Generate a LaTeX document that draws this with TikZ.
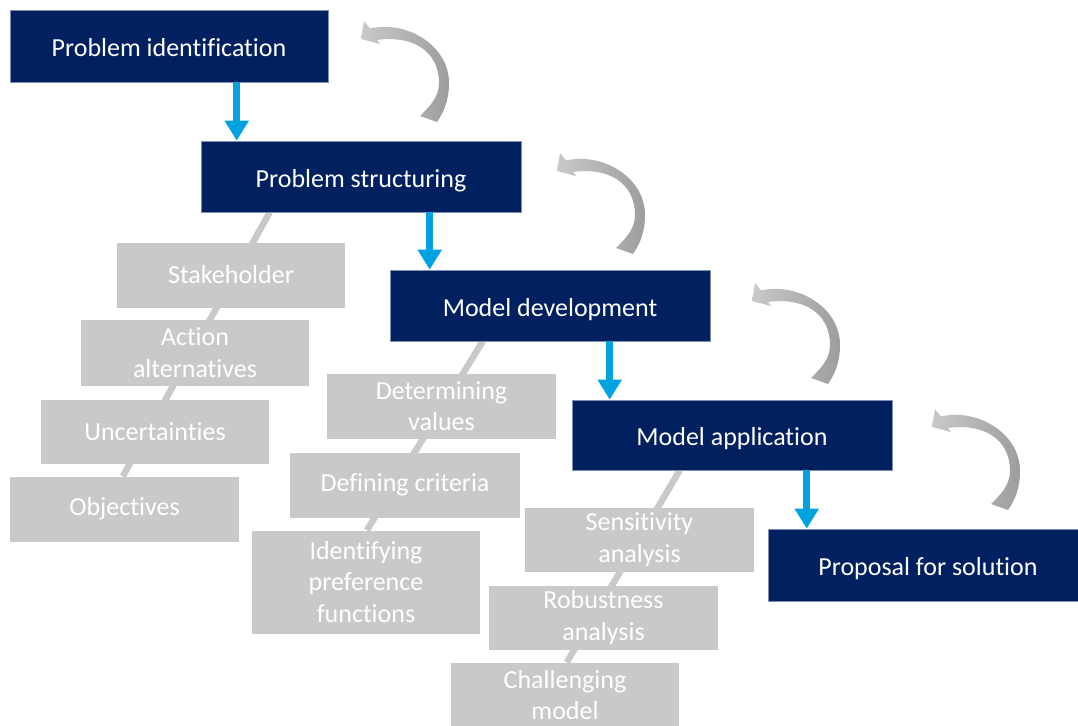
\documentclass[tikz,border=0pt]{standalone}
\usepackage{fontspec}
\setmainfont{Carlito}[Ligatures={NoCommon}]
\usetikzlibrary{arrows.meta,calc,backgrounds}
\definecolor{navy}{HTML}{002060}
\definecolor{navyedge}{HTML}{7F8FB0}
\definecolor{boxgray}{HTML}{C9CAC8}
\definecolor{flowblue}{HTML}{00A3E0}
\definecolor{arrowlight}{HTML}{C8CAC8}
\definecolor{arrowdark}{HTML}{9C9E9C}
\begin{document}
\begin{tikzpicture}[x=1pt,y=-1pt,
  darkbox/.style={fill=navy, draw=navyedge, line width=0.6pt, text=white,
    minimum width=320pt, minimum height=71pt, inner sep=0pt,
    text height=21pt, text depth=0pt,
    font=\fontsize{26}{31.7}\selectfont},
  graybox/.style={fill=boxgray, text=white, minimum width=228pt,
    minimum height=65pt, inner sep=0pt, align=center,
    font=\fontsize{26}{31.7}\selectfont},
  flow/.style={draw=flowblue, line width=7pt, -{Triangle[length=20pt,width=23pt]}},
  link/.style={draw=boxgray, line width=6.5pt},
  curvearrow/.pic={
    \shade[left color=arrowlight, right color=arrowdark]
      (-35,-41) -- (-32,-59) -- (-26,-51.5)
      .. controls (10,-60) and (53,-35) .. (53,3)
      .. controls (53,20) and (48,32) .. (41,42)
      -- (24,36)
      .. controls (32,28) and (43,18) .. (43,3)
      .. controls (43,-30) and (15,-45) .. (-19,-40)
      -- (-16,-36) -- cycle;
  }
]
\useasboundingbox (0,0) rectangle (1078,725);
\clip (0,0) rectangle (1078,725);

% dark process boxes
\node[darkbox, minimum width=318pt, minimum height=72pt] (pid) at (169,46) {Problem identification};
\node[darkbox] (pst) at (361,176.5) {Problem structuring};
\node[darkbox] (pmd) at (550,305.5) {Model development};
\node[darkbox, minimum height=70pt] (pma) at (732,435) {Model application};
\node[darkbox, minimum height=72pt] (pps) at (928,565) {Proposal for solution};

% gray sub-step boxes
\node[graybox] (stk) at (231,275) {Stakeholder};
\node[graybox, minimum height=66pt] (act) at (195,352.5) {Action\\alternatives};
\node[graybox, minimum height=64pt] (unc) at (155,431.5) {Uncertainties};
\node[graybox, minimum width=229pt] (obj) at (124.5,509) {Objectives};

\node[graybox, minimum width=229pt] (det) at (441.5,406) {Determining\\values};
\node[graybox, minimum width=230pt] (def) at (405,485) {Defining criteria};
\node[graybox, minimum height=103pt] (idf) at (366,582) {Identifying\\preference\\functions};

\node[graybox, minimum width=229pt, minimum height=64pt] (sen) at (639.5,539.5) {Sensitivity\\analysis};
\node[graybox, minimum width=229pt, minimum height=64pt] (rob) at (603.5,617.5) {Robustness\\analysis};
\node[graybox] (chl) at (565,695) {Challenging\\model};

% gray links behind the boxes
\begin{scope}[on background layer]
  \draw[link] ($(pst.south west)+(69,0)$) -- ($(obj.north west)+(113,0)$);
  \draw[link] ($(pmd.south west)+(93,0)$) -- ($(idf.north west)+(115,0)$);
  \draw[link] ($(pma.south west)+(108,0)$) -- ($(chl.north west)+(116,0)$);
\end{scope}

% blue flow arrows
\draw[flow] ($(pid.south west)+(227,0)$) -- ($(pst.north west)+(36,0)$);
\draw[flow] ($(pst.south west)+(229,0)$) -- ($(pmd.north west)+(40,0)$);
\draw[flow] ($(pmd.south west)+(220,0)$) -- ($(pma.north west)+(38,0)$);
\draw[flow] ($(pma.south west)+(235,0)$) -- ($(pps.north west)+(39,0)$);

% gray iteration arrows
\pic (ca1) at (396,80) {curvearrow};
\pic (ca2) at (592,212) {curvearrow};
\pic (ca3) at (787,342) {curvearrow};
\pic (ca4) at (967,468) {curvearrow};
\end{tikzpicture}
\end{document}
